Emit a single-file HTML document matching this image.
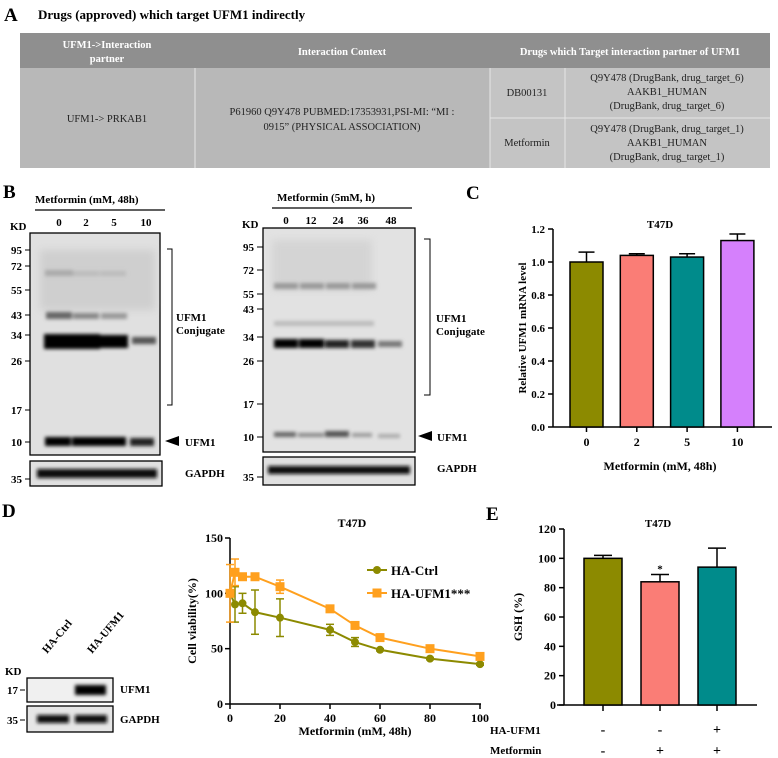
<!DOCTYPE html>
<html><head><meta charset="utf-8">
<style>
body{margin:0;background:#fff;}
svg{display:block;font-family:"Liberation Serif",serif;}
.b{font-weight:bold;}
</style></head>
<body>
<svg width="778" height="758" viewBox="0 0 778 758">
<defs>
<filter id="bl" x="-20%" y="-80%" width="140%" height="260%"><feGaussianBlur stdDeviation="1.8"/></filter>
<filter id="bl2" x="-20%" y="-50%" width="140%" height="200%"><feGaussianBlur stdDeviation="4"/></filter>
</defs>

<!-- Panel A -->
<text x="4" y="21" font-size="19" class="b">A</text>
<text x="38" y="19" font-size="13" class="b">Drugs (approved) which  target UFM1 indirectly</text>
<g font-size="10.5">
<rect x="20" y="33" width="750" height="35" fill="#8f8f8f"/>
<rect x="20" y="68" width="750" height="100" fill="#b8b8b8"/>
<rect x="490" y="68" width="280" height="100" fill="#c4c4c4"/>
<g stroke="#e6e6e6" stroke-width="1">
<line x1="195" y1="68" x2="195" y2="168"/><line x1="490" y1="68" x2="490" y2="168"/>
<line x1="565" y1="68" x2="565" y2="168"/><line x1="490" y1="118" x2="770" y2="118"/>
</g>
<g fill="#fff" text-anchor="middle" class="b">
<text x="107" y="48">UFM1-&gt;Interaction</text><text x="107" y="62">partner</text>
<text x="342" y="55">Interaction Context</text>
<text x="630" y="55">Drugs which Target interaction partner of UFM1</text>
</g>
<g fill="#222" text-anchor="middle">
<text x="107" y="122">UFM1-&gt; PRKAB1</text>
<text x="342" y="115">P61960 Q9Y478 PUBMED:17353931,PSI-MI: “MI :</text>
<text x="342" y="130">0915”    (PHYSICAL ASSOCIATION)</text>
<text x="527" y="96">DB00131</text>
<text x="527" y="146">Metformin</text>
<text x="667" y="81">Q9Y478 (DrugBank, drug_target_6)</text>
<text x="667" y="95">AAKB1_HUMAN</text>
<text x="667" y="109">(DrugBank, drug_target_6)</text>
<text x="667" y="132">Q9Y478 (DrugBank, drug_target_1)</text>
<text x="667" y="146">AAKB1_HUMAN</text>
<text x="667" y="160">(DrugBank, drug_target_1)</text>
</g>
</g>

<!-- Panel B left blot -->
<text x="3" y="198" font-size="19" class="b">B</text>
<g font-size="11" class="b">
<text x="35" y="203">Metformin (mM, 48h)</text>
<line x1="35" y1="210" x2="165" y2="210" stroke="#000" stroke-width="1.3"/>
<text x="59" y="226" text-anchor="middle">0</text><text x="86" y="226" text-anchor="middle">2</text><text x="114" y="226" text-anchor="middle">5</text><text x="146" y="226" text-anchor="middle">10</text>
<text x="10" y="230">KD</text>
<rect x="30" y="233" width="130" height="222" fill="#e0e0e0" stroke="#000" stroke-width="1.3"/>
<rect x="40" y="250" width="115" height="60" fill="#c8c8c8" filter="url(#bl2)" opacity="0.7"/>
<g fill="#aaa" filter="url(#bl)">
<rect x="45" y="270" width="28" height="6"/><rect x="73" y="271" width="26" height="5" fill="#bbb"/><rect x="100" y="271" width="26" height="5" fill="#bbb"/>
</g>
<g fill="#666" filter="url(#bl)">
<rect x="46" y="312" width="26" height="7"/><rect x="73" y="313" width="26" height="6" fill="#888"/><rect x="101" y="313" width="26" height="6" fill="#999"/>
</g>
<g fill="#000" filter="url(#bl)">
<rect x="44" y="334" width="28" height="15"/><rect x="72" y="334" width="28" height="15"/><rect x="100" y="335" width="28" height="13"/>
<rect x="132" y="337" width="24" height="7" fill="#555"/>
<rect x="45" y="437" width="26" height="9"/><rect x="72" y="437" width="27" height="9"/><rect x="99" y="437" width="27" height="9"/><rect x="130" y="438" width="24" height="8" fill="#222"/>
</g>
<g text-anchor="end">
<text x="22" y="254">95</text><text x="22" y="270">72</text><text x="22" y="294">55</text><text x="22" y="319">43</text><text x="22" y="339">34</text><text x="22" y="365">26</text><text x="22" y="414">17</text><text x="22" y="446">10</text>
</g>
<g stroke="#000"><line x1="25" y1="250" x2="30" y2="250"/><line x1="25" y1="266" x2="30" y2="266"/><line x1="25" y1="290" x2="30" y2="290"/><line x1="25" y1="315" x2="30" y2="315"/><line x1="25" y1="335" x2="30" y2="335"/><line x1="25" y1="361" x2="30" y2="361"/><line x1="25" y1="410" x2="30" y2="410"/><line x1="25" y1="442" x2="30" y2="442"/></g>
<path d="M167 249 H172 V405 H167" fill="none" stroke="#000"/>
<text x="176" y="321">UFM1</text><text x="176" y="334">Conjugate</text>
<polygon points="165,441 179,436 179,446" fill="#000"/>
<text x="185" y="446">UFM1</text>
<rect x="30" y="461" width="132" height="25" fill="#e0e0e0" stroke="#000" stroke-width="1.3"/>
<rect x="37" y="469" width="120" height="9" fill="#111" filter="url(#bl)"/>
<text x="22" y="483" text-anchor="end">35</text>
<line x1="25" y1="479" x2="30" y2="479" stroke="#000"/>
<text x="185" y="477">GAPDH</text>
</g>

<!-- Panel B right blot -->
<g font-size="11" class="b">
<text x="277" y="201">Metformin (5mM, h)</text>
<line x1="272" y1="208" x2="412" y2="208" stroke="#000" stroke-width="1.3"/>
<text x="286" y="224" text-anchor="middle">0</text><text x="311" y="224" text-anchor="middle">12</text><text x="338" y="224" text-anchor="middle">24</text><text x="363" y="224" text-anchor="middle">36</text><text x="391" y="224" text-anchor="middle">48</text>
<text x="242" y="228">KD</text>
<rect x="263" y="228" width="152" height="224" fill="#e2e2e2" stroke="#000" stroke-width="1.3"/>
<rect x="272" y="240" width="100" height="50" fill="#cfcfcf" filter="url(#bl2)" opacity="0.7"/>
<g fill="#999" filter="url(#bl)">
<rect x="274" y="283" width="24" height="6"/><rect x="300" y="283" width="24" height="6"/><rect x="326" y="283" width="24" height="6"/><rect x="352" y="283" width="24" height="6"/>
<rect x="274" y="321" width="100" height="5" fill="#bbb"/>
</g>
<g fill="#000" filter="url(#bl)">
<rect x="274" y="339" width="24" height="9"/><rect x="299" y="339" width="25" height="9"/><rect x="325" y="340" width="24" height="8" fill="#222"/><rect x="351" y="340" width="24" height="8" fill="#333"/><rect x="378" y="341" width="24" height="6" fill="#777"/>
<rect x="274" y="432" width="22" height="5" fill="#666"/><rect x="298" y="433" width="26" height="4" fill="#888"/><rect x="325" y="431" width="24" height="6" fill="#555"/><rect x="352" y="433" width="20" height="4" fill="#999"/><rect x="378" y="434" width="22" height="4" fill="#aaa"/>
</g>
<g text-anchor="end">
<text x="254" y="251">95</text><text x="254" y="274">72</text><text x="254" y="298">55</text><text x="254" y="313">43</text><text x="254" y="341">34</text><text x="254" y="365">26</text><text x="254" y="408">17</text><text x="254" y="441">10</text>
</g>
<g stroke="#000"><line x1="257" y1="247" x2="263" y2="247"/><line x1="257" y1="270" x2="263" y2="270"/><line x1="257" y1="294" x2="263" y2="294"/><line x1="257" y1="309" x2="263" y2="309"/><line x1="257" y1="337" x2="263" y2="337"/><line x1="257" y1="361" x2="263" y2="361"/><line x1="257" y1="404" x2="263" y2="404"/><line x1="257" y1="437" x2="263" y2="437"/></g>
<path d="M424 239 H430 V395 H424" fill="none" stroke="#000"/>
<text x="436" y="322">UFM1</text><text x="436" y="335">Conjugate</text>
<polygon points="418,436 432,431 432,441" fill="#000"/>
<text x="437" y="441">UFM1</text>
<rect x="263" y="457" width="152" height="28" fill="#e0e0e0" stroke="#000" stroke-width="1.3"/>
<rect x="268" y="466" width="142" height="8" fill="#111" filter="url(#bl)"/>
<text x="254" y="481" text-anchor="end">35</text>
<line x1="257" y1="477" x2="263" y2="477" stroke="#000"/>
<text x="437" y="472">GAPDH</text>
</g>

<!-- Panel C -->
<text x="466" y="199" font-size="19" class="b">C</text>
<g id="chartC"></g>

<!-- Panel D blot -->
<text x="2" y="517" font-size="19" class="b">D</text>
<g font-size="11" class="b">
<text transform="translate(47,654) rotate(-50)">HA-Ctrl</text>
<text transform="translate(92,654) rotate(-50)">HA-UFM1</text>
<text x="5" y="675">KD</text>
<rect x="27" y="678" width="86" height="24" fill="#f0f0f0" stroke="#000" stroke-width="1.3"/>
<rect x="75" y="685" width="31" height="10" fill="#000" filter="url(#bl)"/>
<rect x="27" y="706" width="86" height="26" fill="#e6e6e6" stroke="#000" stroke-width="1.3"/>
<rect x="37" y="715" width="32" height="8" fill="#111" filter="url(#bl)"/>
<rect x="75" y="715" width="32" height="8" fill="#111" filter="url(#bl)"/>
<text x="18" y="694" text-anchor="end">17</text>
<text x="18" y="724" text-anchor="end">35</text>
<line x1="20" y1="690" x2="25" y2="690" stroke="#000"/><line x1="20" y1="720" x2="25" y2="720" stroke="#000"/>
<text x="120" y="693">UFM1</text>
<text x="120" y="723">GAPDH</text>
</g>
<g id="chartD"></g>

<!-- Panel E -->
<text x="486" y="520" font-size="19" class="b">E</text>
<g id="chartE"></g>
</svg>

<script>
// ---- Chart C data ----
const cCats = ["0","2","5","10"];
const cVals = [1.00, 1.04, 1.03, 1.13];
const cErr = [0.06, 0.01, 0.02, 0.04];
const cColors = ["#8c8a00","#fa7d76","#008b8b","#d580fc"];
const cTicks = [0.0,0.2,0.4,0.6,0.8,1.0,1.2];
// ---- Chart D data ----
const dX = [0,2,5,10,20,40,50,60,80,100];
const dCtrl = [100,90,91,83,78,67,56,49,41,36];
const dCtrlErr = [0,16,9,20,17,5,4,1,1,1];
const dUfm = [100,119,115,115,106,86,71,60,50,43];
const dUfmErr = [26,12,2,3,6,3,3,1,1,1];
const dXTicks = [0,20,40,60,80,100];
const dYTicks = [0,50,100,150];
// ---- Chart E data ----
const eVals = [100, 84, 94];
const eErr = [2, 5, 13];
const eColors = ["#8c8a00","#fa7d76","#008b8b"];
const eHA = ["-","-","+"];
const eMet = ["-","+","+"];
const eTicks = [0,20,40,60,80,100,120];

const NS="http://www.w3.org/2000/svg";
function mk(parent,tag,attrs,text){const e=document.createElementNS(NS,tag);for(const k in attrs)e.setAttribute(k,attrs[k]);if(text!==undefined)e.textContent=text;parent.appendChild(e);return e;}

// Chart C
(function(){
 const g=document.getElementById('chartC');
 const y=v=>427-v*(198/1.2);
 const bx=i=>570+i*50.3, bw=33;
 mk(g,'line',{x1:553,y1:229,x2:553,y2:427,stroke:'#000','stroke-width':1.5});
 mk(g,'line',{x1:553,y1:427,x2:772,y2:427,stroke:'#000','stroke-width':1.5});
 cTicks.forEach(t=>{
  const tk=mk(g,'line',{x1:548,y1:y(t),x2:553,y2:y(t),stroke:'#000','stroke-width':1.5});
  
  const l=mk(g,'text',{x:545,y:y(t)+4,'text-anchor':'end','font-size':11,'font-weight':'bold'},t.toFixed(1));
  
 });
 cCats.forEach((c,i)=>{
  const x=bx(i),top=y(cVals[i]),et=y(cVals[i]+cErr[i]);
  mk(g,'line',{x1:x+bw/2,y1:top,x2:x+bw/2,y2:et,stroke:'#000','stroke-width':1.5});
  mk(g,'line',{x1:x+bw/2-8,y1:et,x2:x+bw/2+8,y2:et,stroke:'#000','stroke-width':1.5});
  const r=mk(g,'rect',{x:x,y:top,width:bw,height:427-top,fill:cColors[i],stroke:'#000','stroke-width':1.5});
  
  mk(g,'line',{x1:x+bw/2,y1:427,x2:x+bw/2,y2:432,stroke:'#000','stroke-width':1.5});
  const l=mk(g,'text',{x:x+bw/2,y:446,'text-anchor':'middle','font-size':12,'font-weight':'bold'},c);
  
 });
 const t=mk(g,'text',{x:660,y:228,'text-anchor':'middle','font-size':11,'font-weight':'bold'},'T47D');
 
 const xt=mk(g,'text',{x:660,y:470,'text-anchor':'middle','font-size':12,'font-weight':'bold'},'Metformin (mM, 48h)');
 
 const yt=mk(g,'text',{transform:'translate(526,328) rotate(-90)','text-anchor':'middle','font-size':11,'font-weight':'bold'},'Relative UFM1 mRNA level');
 
})();

// Chart D
(function(){
 const g=document.getElementById('chartD');
 const x=v=>230+v*2.5, y=v=>704-v*(166/150);
 mk(g,'line',{x1:230,y1:538,x2:230,y2:704,stroke:'#000','stroke-width':1.5});
 mk(g,'line',{x1:230,y1:704,x2:481,y2:704,stroke:'#000','stroke-width':1.5});
 dYTicks.forEach(t=>{
  mk(g,'line',{x1:225,y1:y(t),x2:230,y2:y(t),stroke:'#000','stroke-width':1.5});
  const l=mk(g,'text',{x:223,y:y(t)+4,'text-anchor':'end','font-size':12,'font-weight':'bold'},t);
  
 });
 dXTicks.forEach(t=>{
  mk(g,'line',{x1:x(t),y1:704,x2:x(t),y2:709,stroke:'#000','stroke-width':1.5});
  const l=mk(g,'text',{x:x(t),y:722,'text-anchor':'middle','font-size':12,'font-weight':'bold'},t);
  
 });
 function series(vals,err,col,shape,name){
  const pts=dX.map((d,i)=>x(d)+','+y(vals[i])).join(' ');
  const pl=mk(g,'polyline',{points:pts,fill:'none',stroke:col,'stroke-width':2});
  
  dX.forEach((d,i)=>{
   const cx=x(d),cy=y(vals[i]);
   if(err[i]>0){
    const a=y(vals[i]+err[i]),b=y(vals[i]-err[i]);
    mk(g,'line',{x1:cx,y1:a,x2:cx,y2:b,stroke:col,'stroke-width':1.5});
    mk(g,'line',{x1:cx-4,y1:a,x2:cx+4,y2:a,stroke:col,'stroke-width':1.5});
    mk(g,'line',{x1:cx-4,y1:b,x2:cx+4,y2:b,stroke:col,'stroke-width':1.5});
   }
   let m;
   if(shape==='c') m=mk(g,'circle',{cx:cx,cy:cy,r:4,fill:col});
   else m=mk(g,'rect',{x:cx-4.5,y:cy-4.5,width:9,height:9,fill:col});
   
  });
 }
 series(dCtrl,dCtrlErr,'#8c8a00','c','ha-ctrl');
 series(dUfm,dUfmErr,'#ffa01e','s','ha-ufm1');
 const t=mk(g,'text',{x:352,y:527,'text-anchor':'middle','font-size':12,'font-weight':'bold'},'T47D');
 
 const lg1=mk(g,'g',{});
 
 mk(lg1,'line',{x1:367,y1:570,x2:387,y2:570,stroke:'#8c8a00','stroke-width':2});
 mk(lg1,'circle',{cx:377,cy:570,r:4,fill:'#8c8a00'});
 mk(lg1,'text',{x:391,y:575,'font-size':13,'font-weight':'bold'},'HA-Ctrl');
 const lg2=mk(g,'g',{});
 
 mk(lg2,'line',{x1:367,y1:593,x2:387,y2:593,stroke:'#ffa01e','stroke-width':2});
 mk(lg2,'rect',{x:372.5,y:588.5,width:9,height:9,fill:'#ffa01e'});
 mk(lg2,'text',{x:391,y:598,'font-size':13,'font-weight':'bold'},'HA-UFM1***');
 const xt=mk(g,'text',{x:355,y:735,'text-anchor':'middle','font-size':12,'font-weight':'bold'},'Metformin (mM, 48h)');
 
 const yt=mk(g,'text',{transform:'translate(196,621) rotate(-90)','text-anchor':'middle','font-size':12,'font-weight':'bold'},'Cell viability(%)');
 
})();

// Chart E
(function(){
 const g=document.getElementById('chartE');
 const y=v=>705-v*(176/120);
 const bx=i=>584+i*57, bw=38;
 mk(g,'line',{x1:564,y1:529,x2:564,y2:705,stroke:'#000','stroke-width':1.5});
 mk(g,'line',{x1:557,y1:705,x2:757,y2:705,stroke:'#000','stroke-width':1.5});
 eTicks.forEach(t=>{
  mk(g,'line',{x1:559,y1:y(t),x2:564,y2:y(t),stroke:'#000','stroke-width':1.5});
  const l=mk(g,'text',{x:556,y:y(t)+4,'text-anchor':'end','font-size':12,'font-weight':'bold'},t);
  
 });
 eVals.forEach((v,i)=>{
  const x=bx(i),top=y(v),et=y(v+eErr[i]);
  mk(g,'line',{x1:x+bw/2,y1:top,x2:x+bw/2,y2:et,stroke:'#000','stroke-width':1.5});
  mk(g,'line',{x1:x+bw/2-9,y1:et,x2:x+bw/2+9,y2:et,stroke:'#000','stroke-width':1.5});
  const r=mk(g,'rect',{x:x,y:top,width:bw,height:705-top,fill:eColors[i],stroke:'#000','stroke-width':1.5});
  
  mk(g,'line',{x1:x+bw/2,y1:705,x2:x+bw/2,y2:711,stroke:'#000','stroke-width':1.5});
  const a=mk(g,'text',{x:x+bw/2,y:734,'text-anchor':'middle','font-size':14,'font-weight':'bold'},eHA[i]);
  
  const b=mk(g,'text',{x:x+bw/2,y:755,'text-anchor':'middle','font-size':14,'font-weight':'bold'},eMet[i]);
  
 });
 const s=mk(g,'text',{x:bx(1)+bw/2,y:y(eVals[1]+eErr[1])-2,'text-anchor':'middle','font-size':11,'font-weight':'bold'},'*');
 
 const t=mk(g,'text',{x:658,y:527,'text-anchor':'middle','font-size':11,'font-weight':'bold'},'T47D');
 
 const r1=mk(g,'text',{x:490,y:734,'font-size':11,'font-weight':'bold'},'HA-UFM1');
 
 const r2=mk(g,'text',{x:490,y:754,'font-size':11,'font-weight':'bold'},'Metformin');
 
 const yt=mk(g,'text',{transform:'translate(522,617) rotate(-90)','text-anchor':'middle','font-size':12,'font-weight':'bold'},'GSH (%)');
 
})();
</script>
</body></html>
